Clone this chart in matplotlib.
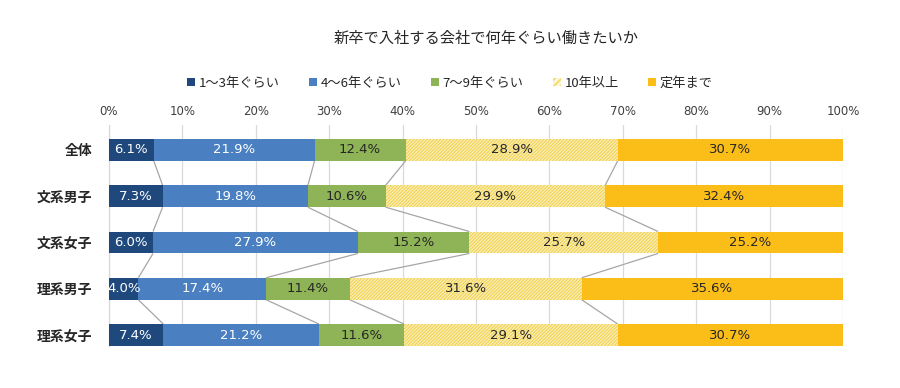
import matplotlib
matplotlib.use("Agg")
import matplotlib.pyplot as plt
from matplotlib.patches import Patch
import numpy as np

plt.rcParams['font.family'] = ['Noto Sans CJK JP', 'DejaVu Sans']
plt.rcParams['hatch.linewidth'] = 1.1

categories = ["全体", "文系男子", "文系女子", "理系男子", "理系女子"]
series_names = ["1～3年ぐらい", "4～6年ぐらい", "7～9年ぐらい", "10年以上", "定年まで"]
s1 = [6.1, 7.3, 6.0, 4.0, 7.4]
s2 = [21.9, 19.8, 27.9, 17.4, 21.2]
s3 = [12.4, 10.6, 15.2, 11.4, 11.6]
s4 = [28.9, 29.9, 25.7, 31.6, 29.1]
s5 = [30.7, 32.4, 25.2, 35.6, 30.7]
ticks = [0, 10, 20, 30, 40, 50, 60, 70, 80, 90, 100]
tick_labels = [f"{t}%" for t in ticks]

series = [s1, s2, s3, s4, s5]
colors = ["#1f497d", "#4a80c2", "#8fb357", "#fdf6d6", "#fbbd18"]
text_colors = ["white", "white", "#262626", "#262626", "#262626"]
hatch_color = "#f2d65e"
hatch = "/" * 10

fig = plt.figure(figsize=(9, 3.88), dpi=100)
ax = fig.add_axes([109/900, 1-346/388, (843-109)/900, (346-125)/388])

y = np.arange(len(categories))
h = 0.475
left = np.zeros(len(categories))
bounds = []
for i, (vals, col) in enumerate(zip(series, colors)):
    vals = np.array(vals)
    if i == 3:
        ax.barh(y, vals, left=left, height=h, color=col,
                edgecolor=hatch_color, linewidth=0, hatch=hatch, zorder=3)
    else:
        ax.barh(y, vals, left=left, height=h, color=col, linewidth=0, zorder=3)
    for yi, l, v in zip(y, left, vals):
        ax.text(l + v/2, yi, f"{v:.1f}%", ha="center", va="center",
                color=text_colors[i], fontsize=9.5, family="DejaVu Sans",
                zorder=5, clip_on=True)
    left = left + vals
    bounds.append(left.copy())

# series lines
for b in bounds[:-1]:
    for k in range(len(categories)-1):
        ax.plot([b[k], b[k+1]], [y[k] + h/2, y[k+1] - h/2], color="#a6a6a6",
                lw=0.9, zorder=2, solid_capstyle="butt")

ax.set_xlim(0, 100)
ax.set_ylim(4 + h/2, -0.54)
ax.set_xticks(ticks)
ax.set_xticklabels(tick_labels, family="DejaVu Sans")
ax.xaxis.tick_top()
ax.tick_params(axis="x", length=0, pad=5, labelsize=8.5, labelcolor="#404040")
ax.set_yticks(y)
ax.set_yticklabels(categories, fontsize=10, fontweight="bold", color="#262626")
ax.tick_params(axis="y", length=0, pad=12)
ax.grid(axis="x", color="#d9d9d9", lw=0.9, zorder=0)
for sp in ["top", "bottom", "right"]:
    ax.spines[sp].set_visible(False)
ax.spines["left"].set_color("#d9d9d9")
ax.spines["left"].set_linewidth(0.9)
ax.set_axisbelow(True)

fig.text(486/900, 1-38/388, "新卒で入社する会社で何年ぐらい働きたいか", ha="center", va="center",
         fontsize=11, color="#262626")

handles = []
for i, (n, c) in enumerate(zip(series_names, colors)):
    if i == 3:
        handles.append(Patch(facecolor=c, edgecolor=hatch_color, hatch="/////", linewidth=0, label=n))
    else:
        handles.append(Patch(facecolor=c, linewidth=0, label=n))
fig.legend(handles=handles, loc="center", bbox_to_anchor=(450/900, 1-83/388), ncol=5,
           frameon=False, fontsize=9.5, handlelength=0.6, handleheight=0.6,
           handletextpad=0.3, columnspacing=2.2, labelcolor="#262626")

fig.savefig("out.png", dpi=100, facecolor="white")
